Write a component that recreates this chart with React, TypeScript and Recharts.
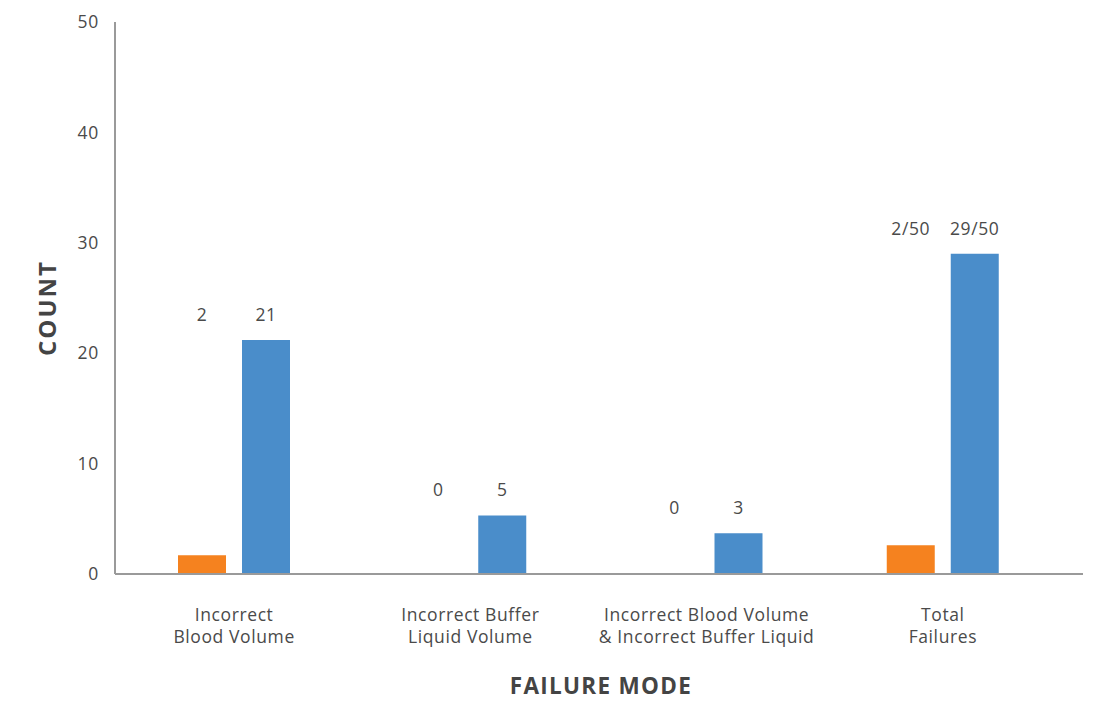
import React from "react";
import { BarChart, Bar, XAxis, YAxis, LabelList, Label } from "recharts";

const categories = [
  "Incorrect Blood Volume",
  "Incorrect Buffer Liquid Volume",
  "Incorrect Blood Volume & Incorrect Buffer Liquid",
  "Total Failures",
];
const tickLines = [
  ["Incorrect", "Blood Volume"],
  ["Incorrect Buffer", "Liquid Volume"],
  ["Incorrect Blood Volume", "& Incorrect Buffer Liquid"],
  ["Total", "Failures"],
];
const orangeValues = [1.7, 0, 0, 2.6];
const blueValues = [21.2, 5.3, 3.7, 29];
const orangeLabels = ["2", "0", "0", "2/50"];
const blueLabels = ["21", "5", "3", "29/50"];
const yTicks = [0, 10, 20, 30, 40, 50];

const data = categories.map((c, i) => ({
  name: c,
  orange: orangeValues[i],
  blue: blueValues[i],
}));

const FONT = "'Open Sans', Lato, sans-serif";
const TEXT = "#4a4a4a";

const XTick = (props: any) => {
  const { x, y, index } = props;
  const lines = tickLines[index] || [];
  return (
    <text
      x={x}
      y={y}
      textAnchor="middle"
      fill={TEXT}
      fontFamily={FONT}
      fontSize={17.5}
      letterSpacing={0.6}
    >
      {lines.map((l, k) => (
        <tspan key={k} x={x} y={y + 47 + k * 22}>
          {l}
        </tspan>
      ))}
    </text>
  );
};

const PairLabels = (props: any) => {
  const { x, y, width, index } = props;
  const ty = y - 19;
  return (
    <g fontFamily={FONT} fontSize={17.5} fill={TEXT} letterSpacing={0.6}>
      <text x={x - 16 - width / 2} y={ty} textAnchor="middle">
        {orangeLabels[index]}
      </text>
      <text x={x + width / 2} y={ty} textAnchor="middle">
        {blueLabels[index]}
      </text>
    </g>
  );
};

export default function App() {
  return (
    <div style={{ position: "absolute", left: 0, top: 0, background: "#fff" }}>
      <BarChart
        width={1093}
        height={702}
        data={data}
        margin={{ top: 22, right: 10, bottom: 0, left: 0 }}
        barSize={48}
        barGap={16}
      >
        <XAxis
          dataKey="name"
          height={128}
          padding={{ left: 1, right: 22 }}
          axisLine={{ stroke: "#9a9a9a", strokeWidth: 2 }}
          tickLine={false}
          tickSize={0}
          tickMargin={0}
          tick={<XTick />}
          interval={0}
        >
          <Label
            content={(p: any) => {
              const vb = p.viewBox;
              return (
                <text
                  x={vb.x + vb.width / 2 + 2}
                  y={694}
                  textAnchor="middle"
                  fontFamily={FONT}
                  fontWeight={700}
                  fontSize={22.5}
                  letterSpacing={1.3}
                  fill="#444"
                >
                  FAILURE MODE
                </text>
              );
            }}
          />
        </XAxis>
        <YAxis
          width={115}
          domain={[0, 50]}
          ticks={yTicks}
          interval={0}
          axisLine={{ stroke: "#9a9a9a", strokeWidth: 2 }}
          tickLine={false}
          tickSize={6}
          tickMargin={10}
          tick={{ fill: TEXT, fontFamily: FONT, fontSize: 17.5, letterSpacing: 0.8 }}
        >
          <Label
            content={(p: any) => {
              const vb = p.viewBox;
              const cx = 46;
              const cy = vb.y + vb.height / 2 + 10;
              return (
                <text
                  x={cx}
                  y={cy}
                  transform={`rotate(-90 ${cx} ${cy})`}
                  textAnchor="middle"
                  dominantBaseline="central"
                  fontFamily={FONT}
                  fontWeight={700}
                  fontSize={24}
                  letterSpacing={2}
                  fill="#444"
                >
                  COUNT
                </text>
              );
            }}
          />
        </YAxis>
        <Bar dataKey="orange" fill="#F5821F" isAnimationActive={false} />
        <Bar dataKey="blue" fill="#4A8DCA" isAnimationActive={false}>
          <LabelList dataKey="blue" content={<PairLabels />} />
        </Bar>
      </BarChart>
    </div>
  );
}
